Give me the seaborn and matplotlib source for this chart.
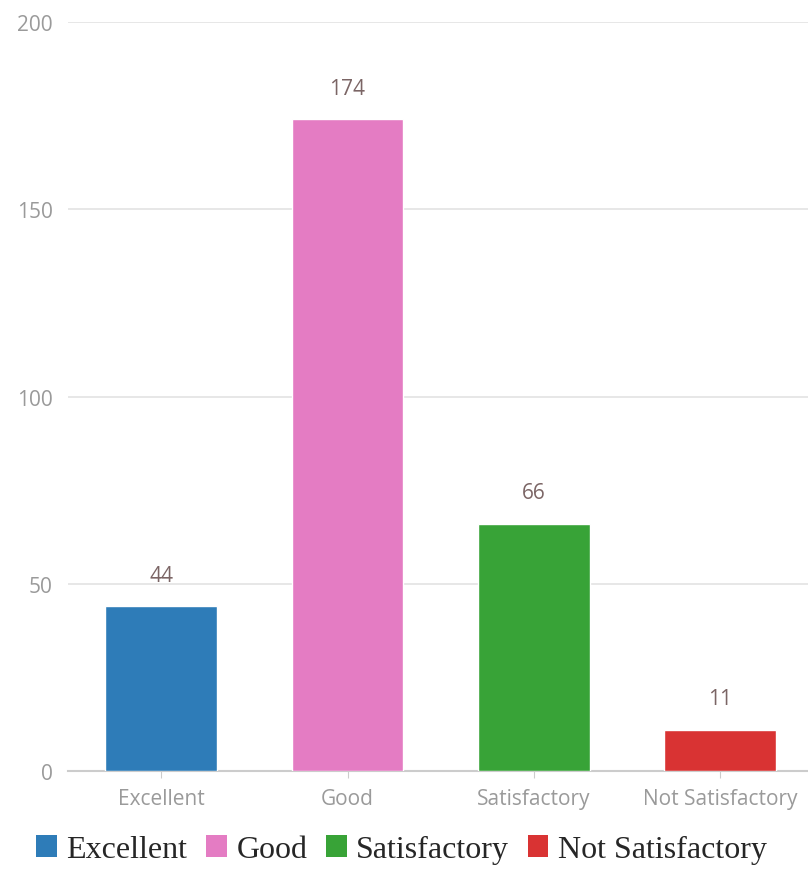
import matplotlib.pyplot as plt
import seaborn as sns
import pandas as pd
from matplotlib.patches import Patch

# data
categories = ["Excellent", "Good", "Satisfactory", "Not Satisfactory"]
counts = [44, 174, 66, 11]
colors = ["#2e7cb8", "#e47cc3", "#38a337", "#d93333"]
y_ticks = [0, 50, 100, 150, 200]

df = pd.DataFrame({"Rating": categories, "Count": counts})

sns.set_style("white")
plt.rcParams['font.family'] = ['Open Sans', 'DejaVu Sans']

fig = plt.figure(figsize=(8.08, 8.70), dpi=100)
ax = fig.add_axes([0.084, 0.1126, 0.916, 0.861])

sns.barplot(data=df, x="Rating", y="Count", hue="Rating", palette=colors,
            width=0.6, legend=False, ax=ax, saturation=1, zorder=3)

# value labels above bars
for i, v in enumerate(counts):
    ax.text(i, v + 5.5, str(v), ha='center', va='bottom', fontsize=15, color='#7b6565')

ax.set_ylim(0, 200)
ax.set_xlim(-0.5, 3.47)
ax.set_yticks(y_ticks)
ax.yaxis.grid(True, color='#e3e3e3', linewidth=1.2, zorder=0)
ax.set_xlabel("")
ax.set_ylabel("")

for s in ['top', 'right', 'left']:
    ax.spines[s].set_visible(False)
ax.spines['bottom'].set_color('#cccccc')
ax.spines['bottom'].set_linewidth(1.5)

ax.tick_params(axis='y', length=0, labelsize=15, labelcolor='#9a9a9a', pad=11)
ax.tick_params(axis='x', length=5, color='#cccccc', labelsize=15,
               labelcolor='#9a9a9a', pad=7, bottom=True)

# legend at bottom in serif font
handles = [Patch(facecolor=c, edgecolor='none') for c in colors]
fig.legend(handles, categories, loc='center', bbox_to_anchor=(0.497, 0.022),
           ncol=4, frameon=False, handlelength=0.65, handleheight=0.65,
           handletextpad=0.3, columnspacing=0.58,
           prop={'family': 'Liberation Serif', 'size': 23})

plt.savefig("out.png", dpi=100)
plt.close()
